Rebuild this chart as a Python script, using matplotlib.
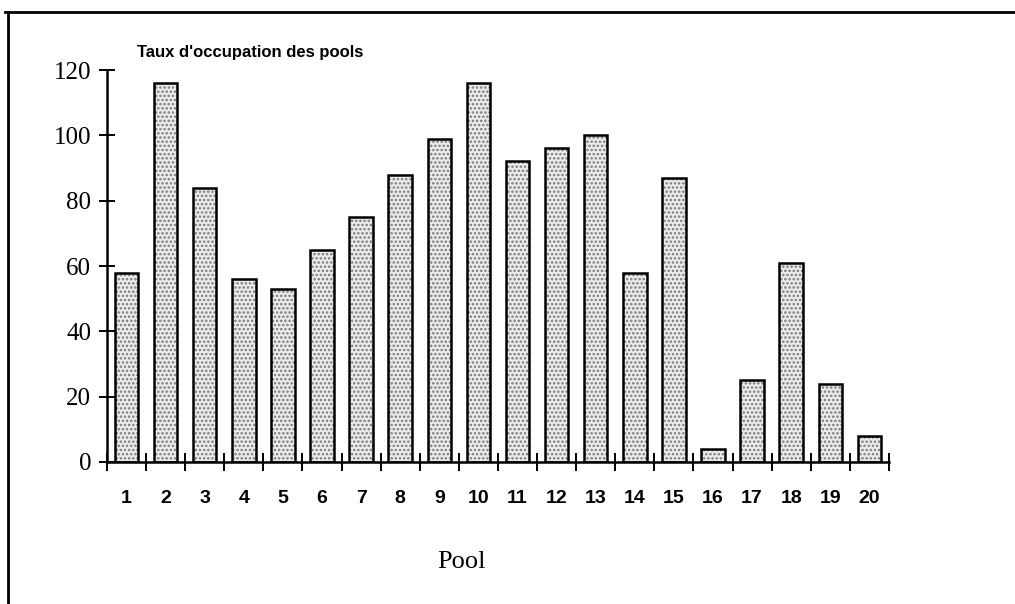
import numpy as np
import matplotlib.pyplot as plt
from matplotlib.lines import Line2D

# donnees
pools = np.arange(1, 21)
taux = [58, 116, 84, 56, 53, 65, 75, 88, 99, 116,
        92, 96, 100, 58, 87, 4, 25, 61, 24, 8]
yticks = [0, 20, 40, 60, 80, 100, 120]

titre = "Taux d'occupation des pools"
xlabel = "Pool"

plt.rcParams['hatch.linewidth'] = 1.2

fig = plt.figure(figsize=(10.15, 6.04), dpi=100)
ax = fig.add_axes([0.1054, 0.2351, 0.7704, 0.649])

# remplissage pointille puis contour noir
ax.bar(pools, taux, width=0.6, color='#ebebeb', edgecolor='#7a7a7a',
       linewidth=0, hatch='....')
ax.bar(pools, taux, width=0.6, fill=False, edgecolor='black', linewidth=1.8)

ax.set_xlim(0.5, 20.5)
ax.set_ylim(0, 120)

for s in ['top', 'right']:
    ax.spines[s].set_visible(False)
for s in ['left', 'bottom']:
    ax.spines[s].set_linewidth(1.8)

# graduations majeures entre les barres, etiquettes au centre
ax.set_xticks(np.arange(0.5, 21, 1))
ax.set_xticklabels([])
ax.set_xticks(pools, minor=True)
ax.set_xticklabels([str(p) for p in pools], minor=True,
                   fontsize=14, fontweight='bold', family='Liberation Sans')
ax.tick_params(axis='x', which='major', direction='inout', length=13, width=1.4)
ax.tick_params(axis='x', which='minor', length=0, pad=20)

ax.set_yticks(yticks)
ax.set_yticklabels([str(v) for v in yticks], fontsize=18,
                   family='Liberation Serif')
ax.tick_params(axis='y', direction='inout', length=11, width=1.4, pad=6)

fig.text(0.135, 0.913, titre, fontsize=12, fontweight='bold',
         family='Liberation Sans', ha='left', va='center')
fig.text(0.455, 0.070, xlabel, fontsize=19, family='Liberation Serif',
         ha='center', va='center')

# cadre du document scanne (haut et gauche)
fig.add_artist(Line2D([0.005, 1.0], [0.980, 0.980], color='black',
                      linewidth=2, transform=fig.transFigure))
fig.add_artist(Line2D([0.008, 0.008], [0.0, 0.980], color='black',
                      linewidth=2, transform=fig.transFigure))

fig.savefig('out.png', dpi=100)
